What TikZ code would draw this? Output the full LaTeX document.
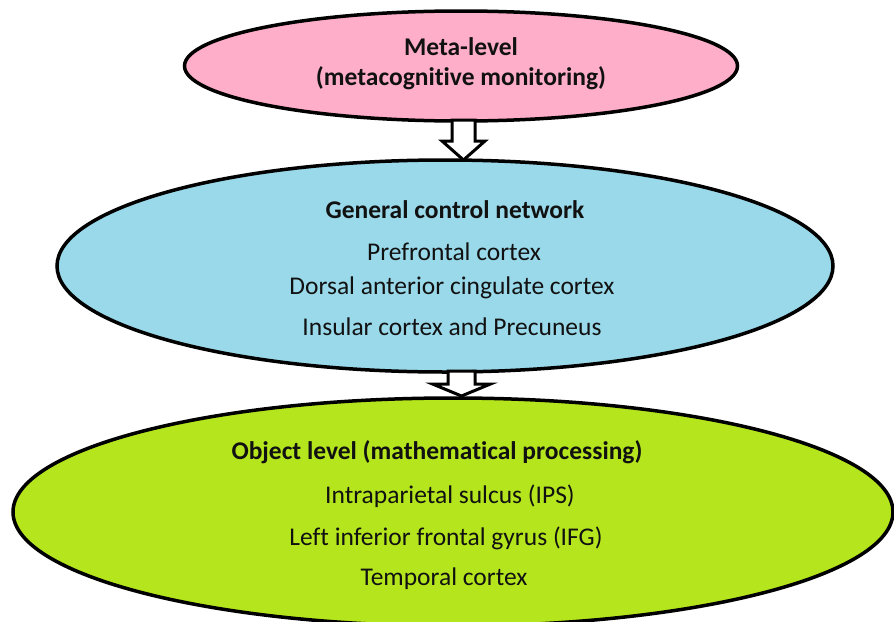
\documentclass[tikz,border=0pt]{standalone}
\usepackage{fontspec}
\setmainfont{Carlito}[Ligatures=NoCommon]
\usepackage{tikz}
\usetikzlibrary{shapes,arrows.meta,positioning,calc}
\definecolor{metapink}{HTML}{FFAEC9}
\definecolor{ctrlblue}{HTML}{99D9EA}
\definecolor{objgreen}{HTML}{B5E61D}
\definecolor{dark}{HTML}{111111}

\tikzset{
  level/.style={ellipse, draw=black, line width=3.5pt, inner sep=0pt},
  title/.style={font=\fontsize{25.5}{30}\selectfont\bfseries, text=dark, inner sep=0pt},
  area/.style={font=\fontsize{25.5}{30}\selectfont, text=dark, inner sep=0pt},
  blockarrow/.style={draw=black, fill=white, line width=3pt, line join=miter}
}

\begin{document}
\begin{tikzpicture}[x=1pt, y=-1pt]
    \useasboundingbox (0,0) rectangle (894,621);
    \begin{scope}
    \clip (0,0) rectangle (894,621);
    % Levels
    \node[level, fill=metapink, minimum width=553pt, minimum height=110pt] (meta) at (461,66) {};
    \node[level, fill=ctrlblue, minimum width=776pt, minimum height=212pt] (ctrl) at (445,266) {};
    \node[level, fill=objgreen, minimum width=880pt, minimum height=228pt] (obj) at (453,512) {};
    \end{scope}

    % Arrows between levels
    \coordinate (tip1) at (463.5,160);
    \coordinate (tip2) at (461.5,396);
    \draw[blockarrow] (tip1) -- ++(-21.5,-19) -- ++(10,0) -- ++(0,-21) -- ++(23,0)
      -- ++(0,21) -- ++(10,0) -- cycle;
    \draw[blockarrow] (tip2) -- ++(-29,-12) -- ++(15.5,0) -- ++(0,-13) -- ++(27,0)
      -- ++(0,13) -- ++(15.5,0) -- cycle;

    % Meta-level text
    \node[title] (metatitle) at (461,47) {Meta-level};
    \node[title] (metasub) at (461,78) {(metacognitive monitoring)};

    % General control network text
    \node[title] (ctrltitle) at (455,210) {General control network};
    \node[area] (pfc) at (454,252) {Prefrontal cortex};
    \node[area] (dacc) at (452,288) {Dorsal anterior cingulate cortex};
    \node[area] (insula) at (452,327) {Insular cortex and Precuneus};

    % Object level text
    \node[title] (objtitle) at (437,452) {Object level (mathematical processing)};
    \node[area] (ips) at (450,496) {Intraparietal sulcus (IPS)};
    \node[area] (ifg) at (446,538) {Left inferior frontal gyrus (IFG)};
    \node[area] (temp) at (444,579) {Temporal cortex};
\end{tikzpicture}
\end{document}
